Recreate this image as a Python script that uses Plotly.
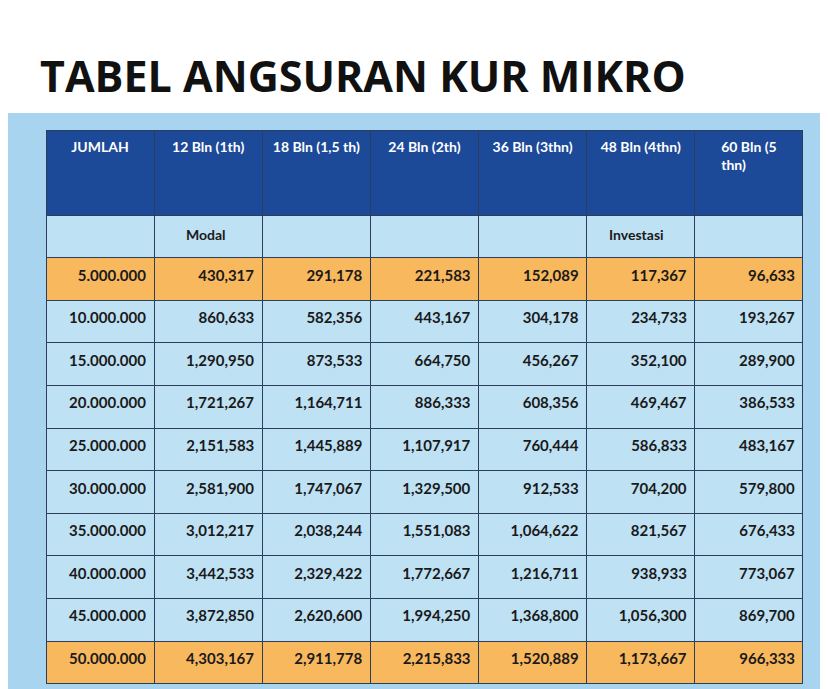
import plotly.graph_objects as go

title = "TABEL ANGSURAN KUR MIKRO"
headers = ["JUMLAH", "12 Bln (1th)", "18 Bln (1,5 th)", "24 Bln (2th)", "36 Bln (3thn)", "48 Bln (4thn)", "60 Bln (5<br>thn)"]
sublabels = ["Modal", "Investasi"]
jumlah = ["", "5.000.000", "10.000.000", "15.000.000", "20.000.000", "25.000.000", "30.000.000",
          "35.000.000", "40.000.000", "45.000.000", "50.000.000"]
bln12 = ["", "430,317", "860,633", "1,290,950", "1,721,267", "2,151,583", "2,581,900", "3,012,217", "3,442,533", "3,872,850", "4,303,167"]
bln18 = ["", "291,178", "582,356", "873,533", "1,164,711", "1,445,889", "1,747,067", "2,038,244", "2,329,422", "2,620,600", "2,911,778"]
bln24 = ["", "221,583", "443,167", "664,750", "886,333", "1,107,917", "1,329,500", "1,551,083", "1,772,667", "1,994,250", "2,215,833"]
bln36 = ["", "152,089", "304,178", "456,267", "608,356", "760,444", "912,533", "1,064,622", "1,216,711", "1,368,800", "1,520,889"]
bln48 = ["", "117,367", "234,733", "352,100", "469,467", "586,833", "704,200", "821,567", "938,933", "1,056,300", "1,173,667"]
bln60 = ["", "96,633", "193,267", "289,900", "386,533", "483,167", "579,800", "676,433", "773,067", "869,700", "966,333"]

cols = [jumlah, bln12, bln18, bln24, bln36, bln48, bln60]
n = len(jumlah)
blue, orange = "#bfe1f4", "#f8b85e"
row_fill = [orange if r in (1, n - 1) else blue for r in range(n)]
fills = [row_fill for _ in cols]

W, H = 828, 689
fig = go.Figure(go.Table(
    domain=dict(x=[38 / W, 795 / W], y=[0, 1 - 122 / H]),
    columnwidth=[1] * 7,
    header=dict(values=[f"<b>{h}</b>" for h in headers], fill_color="#1d4a98",
                line=dict(color="#2b3f5c", width=1), align="center", height=85,
                font=dict(family="Lato", size=14, color="white")),
    cells=dict(values=[[f"<b>{v}</b>" if v else "" for v in c] for c in cols],
               fill_color=fills, line=dict(color="#2b3f5c", width=1), align="right",
               height=42.6, font=dict(family="Lato", size=15, color="#1a1a1a")),
))
fig.add_shape(type="rect", xref="paper", yref="paper", x0=0, x1=1, y0=0, y1=1 - 105 / H,
              fillcolor="#a8d4ef", line_width=0, layer="below")
for lab, px in zip(sublabels, [176, 599]):
    fig.add_annotation(text=f"<b>{lab}</b>", xref="paper", yref="paper", x=px / W, y=1 - 227 / H,
                       xanchor="left", yanchor="middle", showarrow=False,
                       font=dict(family="Lato", size=14, color="#1a1a1a"))
fig.add_annotation(text=f"<b>{title}</b>", xref="paper", yref="paper", x=30 / W, y=1 - 68 / H,
                   xanchor="left", yanchor="middle", showarrow=False,
                   font=dict(family="Open Sans", size=43, color="#111"))
fig.update_layout(width=W, height=H, margin=dict(l=0, r=0, t=0, b=0), paper_bgcolor="white")
fig.write_html("out.html")
